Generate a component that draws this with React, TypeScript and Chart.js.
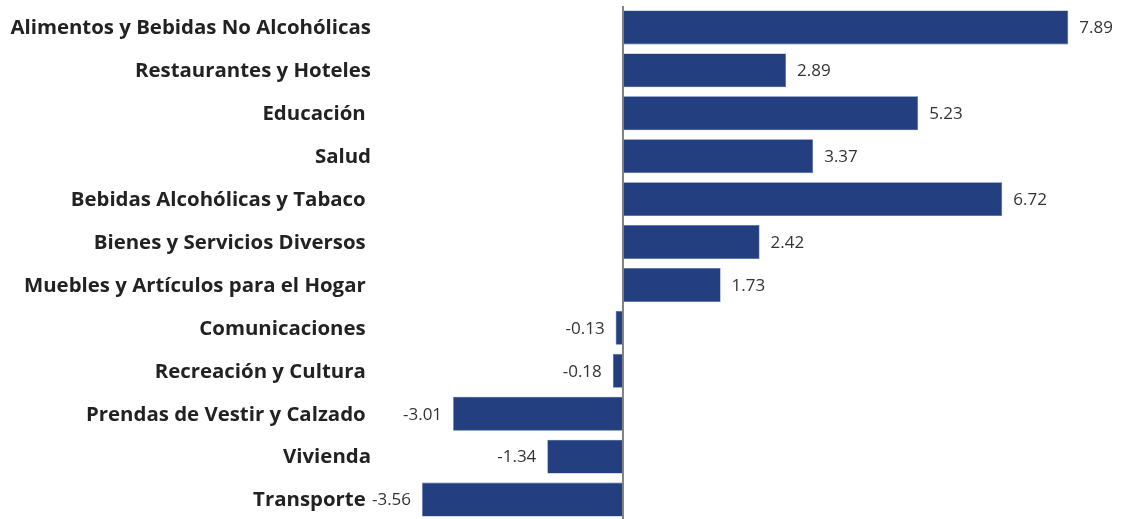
import { useEffect, useRef } from "react";
import { Chart, registerables } from "chart.js";

Chart.register(...registerables);

const categories = [
  "Alimentos y Bebidas No Alcohólicas",
  "Restaurantes y Hoteles",
  "Educación ",
  "Salud",
  "Bebidas Alcohólicas y Tabaco ",
  "Bienes y Servicios Diversos ",
  "Muebles y Artículos para el Hogar ",
  "Comunicaciones ",
  "Recreación y Cultura ",
  "Prendas de Vestir y Calzado ",
  "Vivienda",
  "Transporte ",
];

const values = [7.89, 2.89, 5.23, 3.37, 6.72, 2.42, 1.73, -0.13, -0.18, -3.01, -1.34, -3.56];

export default function App() {
  const ref = useRef<HTMLCanvasElement>(null);

  useEffect(() => {
    if (!ref.current) return;
    const zeroLine = {
      id: "zeroLine",
      afterDatasetsDraw(chart: any) {
        const ctx = chart.ctx;
        const x = chart.scales.x.getPixelForValue(0);
        ctx.save();
        ctx.strokeStyle = "#808080";
        ctx.lineWidth = 2;
        ctx.beginPath();
        ctx.moveTo(x, chart.chartArea.top);
        ctx.lineTo(x, chart.chartArea.bottom);
        ctx.stroke();
        ctx.restore();
      },
    };
    const categoryLabels = {
      id: "categoryLabels",
      afterDraw(chart: any) {
        const ctx = chart.ctx;
        const y = chart.scales.y;
        ctx.save();
        ctx.font = "bold 20.4px 'Open Sans'";
        ctx.fillStyle = "#222222";
        ctx.textAlign = "right";
        ctx.textBaseline = "middle";
        categories.forEach((c, i) => {
          ctx.fillText(c, chart.chartArea.left - 37.5, y.getPixelForValue(i) + 1);
        });
        ctx.restore();
      },
    };
    const valueLabels = {
      id: "valueLabels",
      afterDatasetsDraw(chart: any) {
        const ctx = chart.ctx;
        const meta = chart.getDatasetMeta(0);
        ctx.save();
        ctx.font = "17px 'Open Sans'";
        ctx.fillStyle = "#333333";
        ctx.textBaseline = "middle";
        meta.data.forEach((el: any, i: number) => {
          const v = values[i];
          const txt = v.toFixed(2);
          if (v >= 0) {
            ctx.textAlign = "left";
            ctx.fillText(txt, el.x + 11, el.y + 1);
          } else {
            ctx.textAlign = "right";
            ctx.fillText(txt, el.x - 11, el.y + 1);
          }
        });
        ctx.restore();
      },
    };
    const chart = new Chart(ref.current, {
      type: "bar",
      data: {
        labels: categories,
        datasets: [
          {
            data: values,
            backgroundColor: "#233F80",
            borderColor: "#4A66A2",
            borderWidth: 0.6,
            categoryPercentage: 1,
            barPercentage: 0.79,
          },
        ],
      },
      options: {
        indexAxis: "y",
        animation: false,
        responsive: false,
        maintainAspectRatio: false,
        layout: { padding: { top: 6, bottom: 6, left: 0, right: 32.6 } },
        plugins: { legend: { display: false }, tooltip: { enabled: false } },
        scales: {
          x: { display: false, min: -3.8, max: 8.3 },
          y: {
            grid: { display: false, drawTicks: false },
            border: { display: false },
            ticks: { display: false },
            afterFit(scale: any) {
              scale.width = 408.5;
            },
          },
        },
      },
      plugins: [zeroLine, valueLabels, categoryLabels],
    } as any);
    return () => chart.destroy();
  }, []);

  return (
    <div
      style={{
        position: "fixed",
        left: 0,
        top: 0,
        width: 1124,
        height: 519,
        overflow: "hidden",
        background: "#ffffff",
      }}
    >
      <canvas ref={ref} width={1124} height={527} style={{ display: "block" }} />
    </div>
  );
}
